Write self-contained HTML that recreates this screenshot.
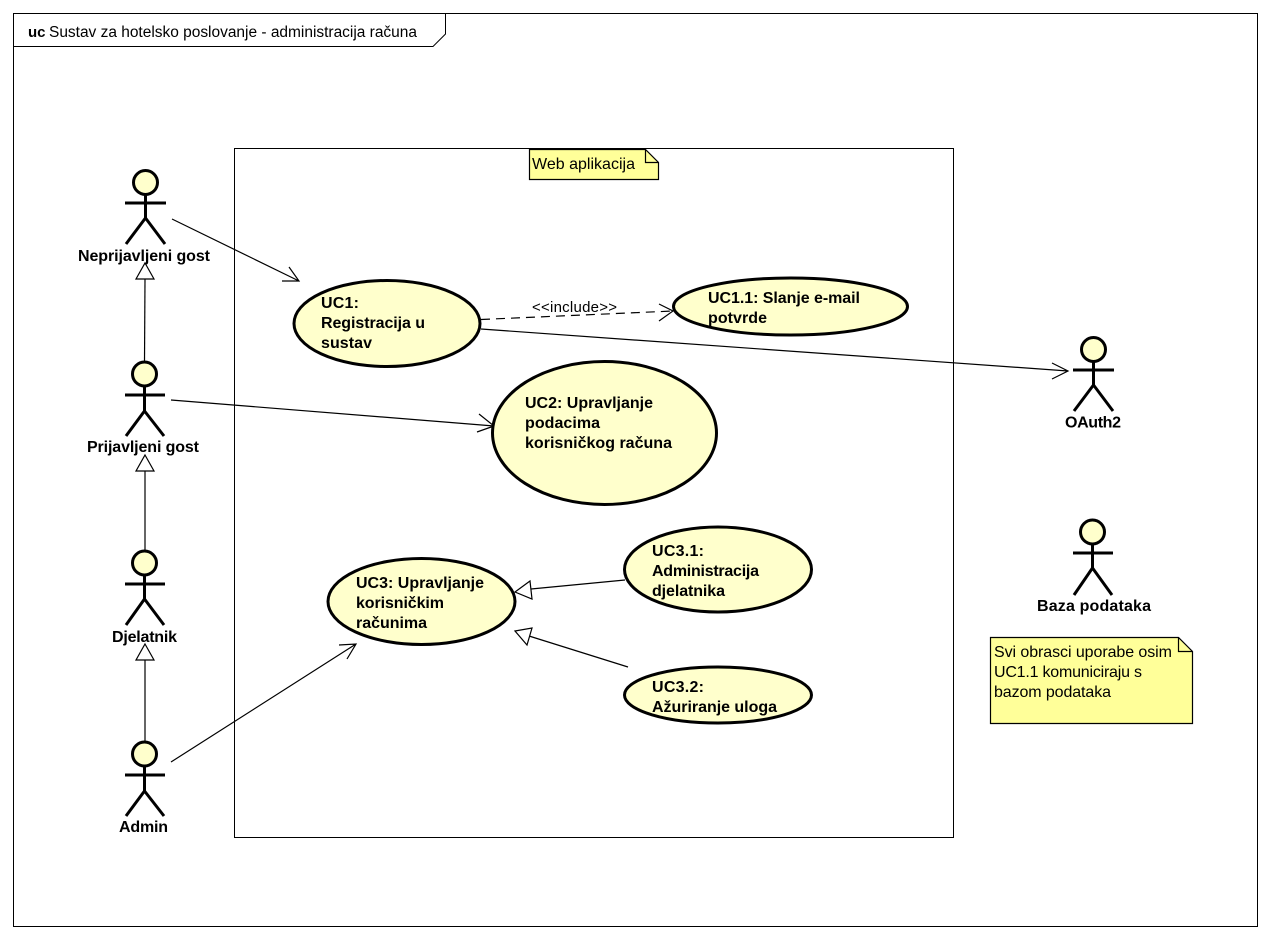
<!DOCTYPE html>
<html><head><meta charset="utf-8"><style>
html,body{margin:0;padding:0;background:#fff}
svg{display:block}
text{font-family:"Liberation Sans",Arial,sans-serif;font-size:16px;fill:#000}
.b{font-weight:bold}
.a line,.a circle{stroke:#000;stroke-width:3;fill:none}
.a circle{fill:#ffffcc}
.u{fill:#ffffcc;stroke:#000;stroke-width:3}
.l{stroke:#000;stroke-width:1.2;fill:none}
.t{stroke:#000;stroke-width:1.2;fill:#fff}
.n{fill:#ffff99;stroke:#000;stroke-width:1.2}
</style></head><body>
<svg width="1270" height="938" viewBox="0 0 1270 938" xmlns="http://www.w3.org/2000/svg">
<rect width="1270" height="938" fill="#fff"/>
<rect x="13.5" y="13.5" width="1244" height="913" fill="#fff" stroke="#000"/>
<path d="M13.5 46.5H433L445.5 34V13.5" fill="none" stroke="#000"/>
<text x="28" y="37" class="b" style="font-size:15px">uc</text>
<text x="49" y="37" textLength="368" lengthAdjust="spacing" style="font-size:15.5px">Sustav za hotelsko poslovanje - administracija računa</text>

<rect x="234.5" y="148.5" width="719" height="689" fill="#fff" stroke="#000"/>

<path d="M529.5 149.5H645.5L658.5 162.5V179.5H529.5Z" class="n"/>
<path d="M645.5 149.5V162.5H658.5" class="l"/>
<text x="532" y="169" textLength="103" lengthAdjust="spacing">Web aplikacija</text>

<path d="M990.5 637.5H1178.5L1192.5 651.5V723.5H990.5Z" class="n"/>
<path d="M1178.5 637.5V651.5H1192.5" class="l"/>
<text x="994" y="657" textLength="178" lengthAdjust="spacing">Svi obrasci uporabe osim</text>
<text x="994" y="677" textLength="148" lengthAdjust="spacing">UC1.1 komuniciraju s</text>
<text x="994" y="697" textLength="117" lengthAdjust="spacing">bazom podataka</text>

<!-- connectors -->
<path class="l" d="M172 219L299 281M289 267L299 281L282 281"/>
<path class="l" d="M171 400L494 426M479 414L494 426L477 432"/>
<path class="l" d="M481 329L1068 371M1052 363L1068 371L1052 379"/>
<path class="l" d="M171 762L356 644M339 645L356 644L347 659"/>
<path class="l" stroke-dasharray="9 6" d="M481 319.5L673 311"/>
<path class="l" d="M659 304L673 311L659 321"/>
<text x="532" y="312" textLength="85" lengthAdjust="spacing" style="font-size:15px">&lt;&lt;include&gt;&gt;</text>

<path class="l" d="M145 279L144.5 361"/><path class="t" d="M145 263L154 279H136Z"/>
<path class="l" d="M145 471L145 551"/><path class="t" d="M145 455L154 471H136Z"/>
<path class="l" d="M145 660L145 742"/><path class="t" d="M145 644L154 660H136Z"/>
<path class="l" d="M531 589L625 580"/><path class="t" d="M515 592L530 581L532 599Z"/>
<path class="l" d="M529 636L628 667"/><path class="t" d="M515 631L532 628L527 645Z"/>

<!-- use cases -->
<ellipse class="u" cx="387" cy="323.5" rx="93" ry="43"/>
<ellipse class="u" cx="790.5" cy="306.5" rx="117" ry="28.5"/>
<ellipse class="u" cx="604.5" cy="433" rx="112" ry="71.5"/>
<ellipse class="u" cx="421.5" cy="601.5" rx="93.5" ry="43"/>
<ellipse class="u" cx="718" cy="569.5" rx="93.5" ry="42.5"/>
<ellipse class="u" cx="718" cy="695" rx="93.5" ry="28"/>

<g class="b">
<text x="321" y="308" class="b" textLength="38" lengthAdjust="spacing">UC1:</text>
<text x="321" y="328" class="b" textLength="104" lengthAdjust="spacing">Registracija u</text>
<text x="321" y="348" class="b" textLength="51" lengthAdjust="spacing">sustav</text>
<text x="708" y="303" class="b" textLength="152" lengthAdjust="spacing">UC1.1: Slanje e-mail</text>
<text x="708" y="323" class="b" textLength="59" lengthAdjust="spacing">potvrde</text>
<text x="525" y="408" class="b" textLength="128" lengthAdjust="spacing">UC2: Upravljanje</text>
<text x="525" y="428" class="b" textLength="75" lengthAdjust="spacing">podacima</text>
<text x="525" y="448" class="b" textLength="147" lengthAdjust="spacing">korisničkog računa</text>
<text x="356" y="588" class="b" textLength="128" lengthAdjust="spacing">UC3: Upravljanje</text>
<text x="356" y="608" class="b" textLength="88" lengthAdjust="spacing">korisničkim</text>
<text x="356" y="628" class="b" textLength="71" lengthAdjust="spacing">računima</text>
<text x="652" y="556" class="b" textLength="52" lengthAdjust="spacing">UC3.1:</text>
<text x="652" y="576" class="b" textLength="107" lengthAdjust="spacing">Administracija</text>
<text x="652" y="596" class="b" textLength="73" lengthAdjust="spacing">djelatnika</text>
<text x="652" y="692" class="b" textLength="52" lengthAdjust="spacing">UC3.2:</text>
<text x="652" y="712" class="b" textLength="125" lengthAdjust="spacing">Ažuriranje uloga</text>

<text x="78" y="261" class="b" textLength="132" lengthAdjust="spacing">Neprijavljeni gost</text>
<text x="87" y="452" class="b" textLength="112" lengthAdjust="spacing">Prijavljeni gost</text>
<text x="112" y="642" class="b" textLength="65" lengthAdjust="spacing">Djelatnik</text>
<text x="119" y="832" class="b" textLength="49" lengthAdjust="spacing">Admin</text>
<text x="1065" y="427.5" class="b" textLength="56" lengthAdjust="spacing">OAuth2</text>
<text x="1037" y="611" class="b" textLength="114" lengthAdjust="spacing">Baza podataka</text>
</g>

<!-- actors -->
<g class="a">
<g><circle cx="145.5" cy="182.5" r="12"/><line x1="145.5" y1="195" x2="145.5" y2="218"/><line x1="125" y1="203" x2="166" y2="203"/><line x1="145.5" y1="218" x2="126" y2="244"/><line x1="145.5" y1="218" x2="165" y2="244"/></g>
<g><circle cx="144.5" cy="374" r="12"/><line x1="144.5" y1="386" x2="144.5" y2="411"/><line x1="125" y1="395" x2="165" y2="395"/><line x1="144.5" y1="411" x2="126" y2="436"/><line x1="144.5" y1="411" x2="164" y2="436"/></g>
<g><circle cx="144.5" cy="563" r="12"/><line x1="144.5" y1="575" x2="144.5" y2="599"/><line x1="125" y1="584" x2="165" y2="584"/><line x1="144.5" y1="599" x2="126" y2="625"/><line x1="144.5" y1="599" x2="164" y2="625"/></g>
<g><circle cx="144.5" cy="754" r="12"/><line x1="144.5" y1="766" x2="144.5" y2="791"/><line x1="125" y1="775" x2="165" y2="775"/><line x1="144.5" y1="791" x2="126" y2="816"/><line x1="144.5" y1="791" x2="164" y2="816"/></g>
<g><circle cx="1093.5" cy="349.5" r="12"/><line x1="1093.5" y1="362" x2="1093.5" y2="385"/><line x1="1073" y1="370" x2="1114" y2="370"/><line x1="1093.5" y1="385" x2="1074" y2="411"/><line x1="1093.5" y1="385" x2="1113" y2="411"/></g>
<g><circle cx="1092.5" cy="532" r="12"/><line x1="1092.5" y1="544" x2="1092.5" y2="568"/><line x1="1073" y1="553" x2="1113" y2="553"/><line x1="1092.5" y1="568" x2="1074" y2="595"/><line x1="1092.5" y1="568" x2="1112" y2="595"/></g>
</g>
</svg>
</body></html>
